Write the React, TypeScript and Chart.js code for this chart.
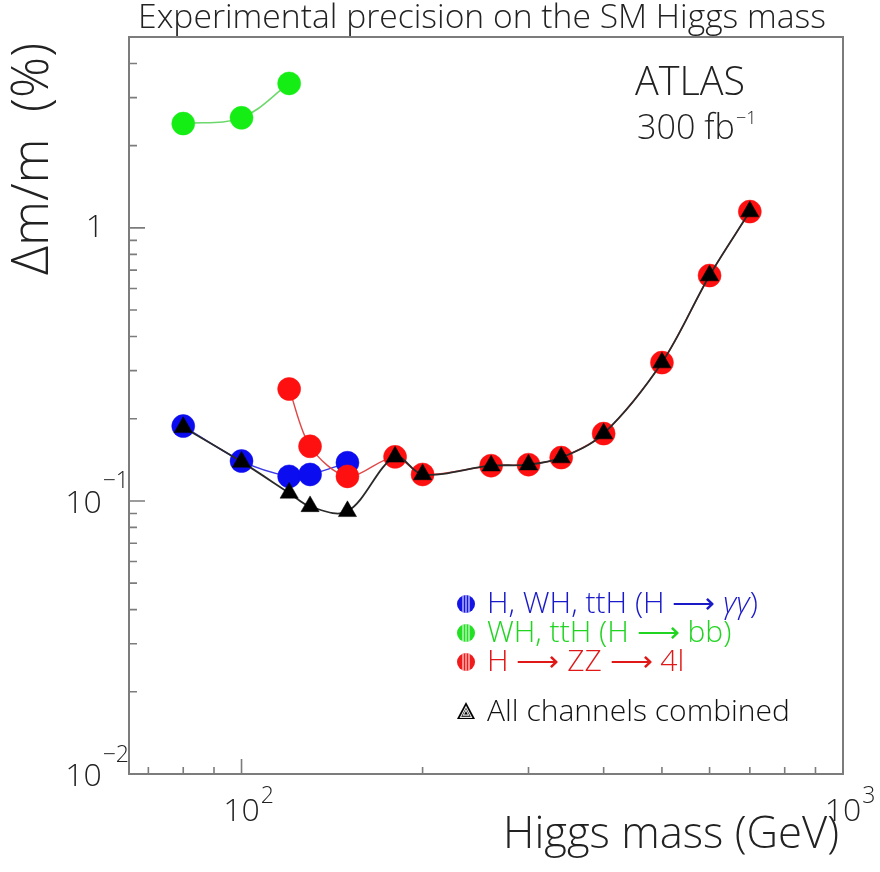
import React, { useEffect, useRef } from "react";
import { Chart, registerables } from "chart.js";

Chart.register(...registerables);

// Higgs mass points (GeV) and relative mass precision (%) per channel
const massGammaGamma = [80, 100, 120, 130, 150];
const precGammaGamma = [0.188, 0.14, 0.123, 0.125, 0.138];

const massBB = [80, 100, 120];
const precBB = [2.41, 2.53, 3.38];

const massZZ = [120, 130, 150, 180, 200, 260, 300, 340, 400, 500, 600, 700];
const precZZ = [0.257, 0.1585, 0.123, 0.145, 0.125, 0.1346, 0.1358, 0.1441, 0.1764, 0.321, 0.669, 1.147];

const massCombined = [80, 100, 120, 130, 150, 180, 200, 260, 300, 340, 400, 500, 600, 700];
const precCombined = [0.186, 0.139, 0.107, 0.0955, 0.0916, 0.145, 0.125, 0.1346, 0.1358, 0.1441, 0.1764, 0.321, 0.669, 1.147];

// Axis ticks
const xMajorTicks = [100, 1000];
const xMinorTicks = [70, 80, 90, 200, 300, 400, 500, 600, 700, 800, 900];
const yMajorTicks = [0.01, 0.1, 1];
const yMinorTicks = [
  0.02, 0.03, 0.04, 0.05, 0.06, 0.07, 0.08, 0.09,
  0.2, 0.3, 0.4, 0.5, 0.6, 0.7, 0.8, 0.9,
  2, 3, 4,
];
const xTickLabels = [
  { value: 100, base: "10", exp: "2" },
  { value: 1000, base: "10", exp: "3" },
];
const yTickLabels = [
  { value: 0.01, base: "10", exp: "\u22122" },
  { value: 0.1, base: "10", exp: "\u22121" },
  { value: 1, base: "1", exp: "" },
];

const titleText = "Experimental precision on the SM Higgs mass";
const xTitle = "Higgs mass (GeV)";
const yTitle = "\u0394m/m  (%)";

const FONT = '"Open Sans", "DejaVu Sans", sans-serif';
const W = "300";
const FRAME = "#7c7c7c";

type Run = { t: string; italic?: boolean };
const legendEntries: { runs: Run[]; color: string; fill: string; marker: "circle" | "triangle" }[] = [
  {
    runs: [{ t: "H, WH, ttH (H " }, { t: "\u27F6" }, { t: " " }, { t: "\u03B3\u03B3", italic: true }, { t: ")" }],
    color: "#1a1ac8",
    fill: "#1414e6",
    marker: "circle",
  },
  {
    runs: [{ t: "WH, ttH (H " }, { t: "\u27F6" }, { t: " bb)" }],
    color: "#22d422",
    fill: "#22e022",
    marker: "circle",
  },
  {
    runs: [{ t: "H " }, { t: "\u27F6" }, { t: " ZZ " }, { t: "\u27F6" }, { t: " 4l" }],
    color: "#e01818",
    fill: "#f01c1c",
    marker: "circle",
  },
  {
    runs: [{ t: "All channels combined" }],
    color: "#111111",
    fill: "#000000",
    marker: "triangle",
  },
];
const legendRowsY = [604, 633, 662, 712];

function pts(xs: number[], ys: number[]) {
  return xs.map((x, i) => ({ x, y: ys[i] }));
}

function fitSize(ctx: CanvasRenderingContext2D, text: string, width: number, style = "") {
  ctx.font = `${style} ${W} 100px ${FONT}`;
  return (100 * width) / ctx.measureText(text).width;
}

function font(size: number, style = "") {
  return `${style} ${W} ${size}px ${FONT}`;
}

function drawRuns(ctx: CanvasRenderingContext2D, runs: Run[], x: number, y: number, size: number, color: string) {
  let cx = x;
  ctx.fillStyle = color;
  ctx.textAlign = "left";
  ctx.textBaseline = "middle";
  for (const r of runs) {
    ctx.font = font(size, r.italic ? "italic" : "");
    ctx.fillText(r.t, cx, y);
    cx += ctx.measureText(r.t).width;
  }
}

const framePlugin = {
  id: "rootFrame",
  beforeDatasetsDraw(chart: any) {
    const { ctx, chartArea: a, scales } = chart;
    const xs = scales.x;
    const ys = scales.y;
    ctx.save();
    ctx.strokeStyle = FRAME;
    ctx.lineWidth = 2;
    ctx.strokeRect(a.left, a.top, a.right - a.left, a.bottom - a.top);
    ctx.lineWidth = 1.6;
    ctx.beginPath();
    for (const v of xMajorTicks) {
      const px = xs.getPixelForValue(v);
      ctx.moveTo(px, a.bottom);
      ctx.lineTo(px, a.bottom - 15);
    }
    for (const v of xMinorTicks) {
      const px = xs.getPixelForValue(v);
      ctx.moveTo(px, a.bottom);
      ctx.lineTo(px, a.bottom - 7);
    }
    for (const v of yMajorTicks) {
      const py = ys.getPixelForValue(v);
      ctx.moveTo(a.left, py);
      ctx.lineTo(a.left + 16, py);
    }
    for (const v of yMinorTicks) {
      const py = ys.getPixelForValue(v);
      ctx.moveTo(a.left, py);
      ctx.lineTo(a.left + 8, py);
    }
    ctx.stroke();
    ctx.restore();
  },
  afterDraw(chart: any) {
    const { ctx, chartArea: a, scales } = chart;
    const xs = scales.x;
    const ys = scales.y;
    ctx.save();
    ctx.fillStyle = "#222";
    ctx.textBaseline = "middle";

    // x tick labels: mantissa centred on the tick, exponent raised to the right
    for (const l of xTickLabels) {
      const px = xs.getPixelForValue(l.value);
      ctx.font = font(32);
      ctx.textAlign = "center";
      ctx.fillText(l.base, px, a.bottom + 38);
      const w = ctx.measureText(l.base).width;
      ctx.font = font(23);
      ctx.textAlign = "left";
      ctx.fillText(l.exp, px + w / 2 + 1, a.bottom + 22);
    }

    // y tick labels
    for (const l of yTickLabels) {
      const py = ys.getPixelForValue(l.value);
      if (l.exp) {
        ctx.font = font(23);
        ctx.textAlign = "right";
        ctx.fillText(l.exp, a.left, py - 19);
        const we = ctx.measureText(l.exp).width;
        ctx.font = font(32);
        ctx.fillText(l.base, a.left - we - 1, py + 3);
      } else {
        ctx.font = font(32);
        ctx.textAlign = "right";
        ctx.fillText(l.base, a.left - 25, py);
      }
    }

    // title
    const ts = fitSize(ctx, titleText, 688);
    ctx.font = font(ts);
    ctx.textAlign = "center";
    ctx.fillText(titleText, 482, 18);

    // axis titles
    const xsz = fitSize(ctx, xTitle, 336);
    ctx.font = font(xsz);
    ctx.textAlign = "right";
    ctx.fillText(xTitle, 839, 836);

    const ysz = fitSize(ctx, yTitle, 232);
    ctx.save();
    ctx.translate(33, 43);
    ctx.rotate(-Math.PI / 2);
    ctx.font = font(ysz);
    ctx.textAlign = "right";
    ctx.fillText(yTitle, 0, 0);
    ctx.restore();

    // experiment label
    ctx.textAlign = "left";
    const as = fitSize(ctx, "ATLAS", 110);
    ctx.font = font(as);
    ctx.fillText("ATLAS", 635, 84);
    const ls = fitSize(ctx, "300 fb", 98);
    ctx.font = font(ls);
    ctx.fillText("300 fb", 637, 129);
    ctx.font = font(18);
    ctx.fillText("\u22121", 736, 119);

    // legend
    const legSize = fitSize(ctx, "All channels combined", 303);
    legendEntries.forEach((e, i) => {
      const y = legendRowsY[i];
      const mx = 466;
      if (e.marker === "circle") {
        ctx.save();
        ctx.beginPath();
        ctx.arc(mx, y, 9, 0, Math.PI * 2);
        ctx.fillStyle = e.fill;
        ctx.fill();
        ctx.clip();
        ctx.strokeStyle = "rgba(255,255,255,0.85)";
        ctx.lineWidth = 1.2;
        ctx.beginPath();
        for (const dx of [-3, 0, 3]) {
          ctx.moveTo(mx + dx, y - 10);
          ctx.lineTo(mx + dx, y + 10);
        }
        ctx.stroke();
        ctx.restore();
      } else {
        ctx.save();
        ctx.fillStyle = e.fill;
        ctx.beginPath();
        ctx.moveTo(mx, y - 10);
        ctx.lineTo(mx + 9, y + 7);
        ctx.lineTo(mx - 9, y + 7);
        ctx.closePath();
        ctx.fill();
        ctx.strokeStyle = "rgba(255,255,255,0.9)";
        ctx.lineWidth = 1.1;
        for (const k of [0.62, 0.3]) {
          ctx.beginPath();
          ctx.moveTo(mx, y - 10 * k + 1);
          ctx.lineTo(mx + 9 * k, y + 7 * k + 1);
          ctx.lineTo(mx - 9 * k, y + 7 * k + 1);
          ctx.closePath();
          ctx.stroke();
        }
        ctx.restore();
      }
      drawRuns(ctx, e.runs, 487, y, legSize, e.color);
    });
    ctx.restore();
  },
};

export default function App() {
  const canvasRef = useRef<HTMLCanvasElement | null>(null);

  useEffect(() => {
    if (!canvasRef.current) return;
    const chart = new Chart(canvasRef.current, {
      type: "scatter",
      data: {
        datasets: [
          {
            label: "All channels combined",
            data: pts(massCombined, precCombined),
            showLine: true,
            borderColor: "#2a2a2a",
            borderWidth: 1.8,
            tension: 0.35,
            pointStyle: "triangle",
            pointRadius: 10.5,
            pointBackgroundColor: "#000",
            pointBorderColor: "#000",
            pointBorderWidth: 0.5,
            order: 0,
          },
          {
            label: "H -> ZZ -> 4l",
            data: pts(massZZ, precZZ),
            showLine: true,
            borderColor: "#e04848",
            borderWidth: 1.4,
            tension: 0.3,
            pointStyle: "circle",
            pointRadius: 11.5,
            pointBackgroundColor: "#ff1010",
            pointBorderColor: "#ff1010",
            pointBorderWidth: 0.5,
            order: 1,
          },
          {
            label: "H, WH, ttH (H -> gamma gamma)",
            data: pts(massGammaGamma, precGammaGamma),
            showLine: true,
            borderColor: "#3a3ae6",
            borderWidth: 1.4,
            tension: 0.3,
            pointStyle: "circle",
            pointRadius: 11.5,
            pointBackgroundColor: "#0c0cf0",
            pointBorderColor: "#0c0cf0",
            pointBorderWidth: 0.5,
            order: 2,
          },
          {
            label: "WH, ttH (H -> bb)",
            data: pts(massBB, precBB),
            showLine: true,
            borderColor: "#6cd86c",
            borderWidth: 1.6,
            tension: 0.35,
            pointStyle: "circle",
            pointRadius: 11.5,
            pointBackgroundColor: "#14ee14",
            pointBorderColor: "#14ee14",
            pointBorderWidth: 0.5,
            order: 3,
          },
        ],
      },
      options: {
        animation: false,
        responsive: true,
        maintainAspectRatio: false,
        devicePixelRatio: 1,
        layout: { padding: { left: 129, top: 37, right: 37, bottom: 98 } },
        plugins: {
          legend: { display: false },
          tooltip: { enabled: false },
          title: { display: false },
        },
        scales: {
          x: { type: "logarithmic", min: 65, max: 1000, display: false },
          y: { type: "logarithmic", min: 0.01, max: 5, display: false },
        },
      },
      plugins: [framePlugin],
    });
    return () => chart.destroy();
  }, []);

  return (
    <div style={{ position: "fixed", left: 0, top: 0, width: 880, height: 872, background: "#fff" }}>
      <canvas ref={canvasRef} />
    </div>
  );
}
